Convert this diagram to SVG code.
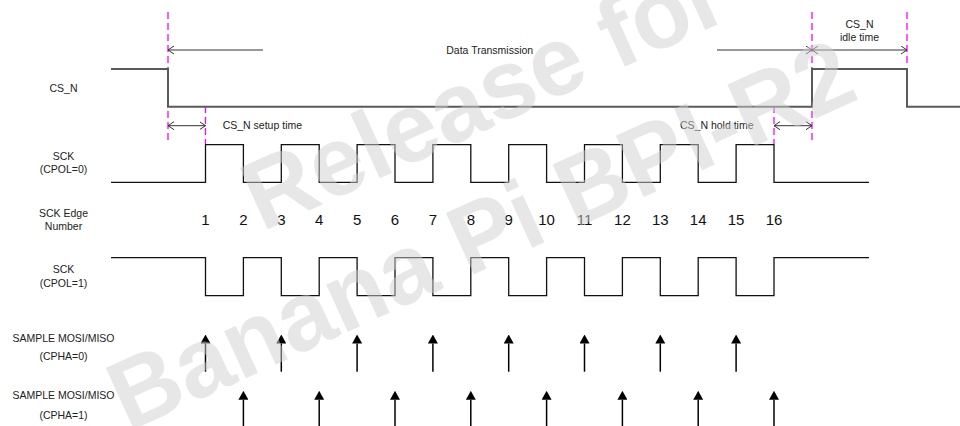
<svg xmlns="http://www.w3.org/2000/svg" width="960" height="426" viewBox="0 0 960 426">
<defs>
<style>
.lbl{font-family:"Liberation Sans",Arial,sans-serif;font-size:10.5px;fill:#222;text-anchor:middle}
.lbs{font-family:"Liberation Sans",Arial,sans-serif;font-size:10.5px;fill:#222}
.num{font-family:"Liberation Sans",Arial,sans-serif;font-size:15px;fill:#111;text-anchor:middle}
.sig{fill:none;stroke:#111;stroke-width:1.3}
.cs{fill:none;stroke:#5a5a5a;stroke-width:2}
.mag{stroke:#ff00ff;stroke-width:1.3;stroke-dasharray:7,4;fill:none}
.dim{stroke:#333;stroke-width:1;fill:none}
.samp{stroke:#000;stroke-width:1.5;fill:none}
.wm{font-family:"Liberation Sans",Arial,sans-serif;font-weight:bold;font-size:98px;fill:#d0d0d0;fill-opacity:0.5}
</style>
<marker id="open" viewBox="0 0 6 9" refX="6" refY="4.5" markerWidth="6" markerHeight="9" markerUnits="userSpaceOnUse" orient="auto-start-reverse">
<path d="M0,0.5 L6,4.5 L0,8.5" fill="none" stroke="#333" stroke-width="1"/>
</marker>
<marker id="fill" viewBox="0 0 9 10" refX="0" refY="5" markerWidth="9" markerHeight="10" markerUnits="userSpaceOnUse" orient="auto">
<path d="M0,0 L9,5 L0,10 z" fill="#000"/>
</marker>
</defs>
<rect width="960" height="426" fill="#fff"/>

<g id="labels">
<text class="lbl" x="63.5" y="92">CS_N</text>
<text class="lbl" x="63.5" y="160">SCK</text>
<text class="lbl" x="63.5" y="172.5">(CPOL=0)</text>
<text class="lbl" x="63.5" y="216.5">SCK Edge</text>
<text class="lbl" x="63.5" y="229.8">Number</text>
<text class="lbl" x="63.5" y="272.5">SCK</text>
<text class="lbl" x="63.5" y="286.5">(CPOL=1)</text>
<text class="lbl" x="63.5" y="341.8">SAMPLE MOSI/MISO</text>
<text class="lbl" x="63.5" y="359.5">(CPHA=0)</text>
<text class="lbl" x="63.5" y="399">SAMPLE MOSI/MISO</text>
<text class="lbl" x="63.5" y="419">(CPHA=1)</text>
</g>

<g id="guides">
<line class="mag" x1="168" y1="12" x2="168" y2="144"/>
<line class="mag" x1="205.5" y1="106" x2="205.5" y2="144"/>
<line class="mag" x1="774" y1="106" x2="774" y2="144"/>
<line class="mag" x1="812" y1="12" x2="812" y2="144"/>
<line class="mag" x1="907" y1="12" x2="907" y2="66"/>
</g>

<g id="cs_n">
<path class="cs" d="M111,69 H168 V106.7 H812 V69 H907 V106.7 H960"/>
</g>

<g id="sck_cpol0">
<path class="sig" d="M111,182.3 H205.5 V144.7 H243.4 V182.3 H281.3 V144.7 H319.2 V182.3 H357.1 V144.7 H395 V182.3 H432.9 V144.7 H470.8 V182.3 H508.7 V144.7 H546.6 V182.3 H584.5 V144.7 H622.4 V182.3 H660.3 V144.7 H698.2 V182.3 H736.1 V144.7 H774 V182.3 H869"/>
</g>

<g id="edge_numbers">
<text class="num" x="205.5" y="224.7">1</text>
<text class="num" x="243.4" y="224.7">2</text>
<text class="num" x="281.3" y="224.7">3</text>
<text class="num" x="319.2" y="224.7">4</text>
<text class="num" x="357.1" y="224.7">5</text>
<text class="num" x="395" y="224.7">6</text>
<text class="num" x="432.9" y="224.7">7</text>
<text class="num" x="470.8" y="224.7">8</text>
<text class="num" x="508.7" y="224.7">9</text>
<text class="num" x="546.6" y="224.7">10</text>
<text class="num" x="584.5" y="224.7">11</text>
<text class="num" x="622.4" y="224.7">12</text>
<text class="num" x="660.3" y="224.7">13</text>
<text class="num" x="698.2" y="224.7">14</text>
<text class="num" x="736.1" y="224.7">15</text>
<text class="num" x="774" y="224.7">16</text>
</g>

<g id="sck_cpol1">
<path class="sig" d="M111,257.7 H205.5 V295.7 H243.4 V257.7 H281.3 V295.7 H319.2 V257.7 H357.1 V295.7 H395 V257.7 H432.9 V295.7 H470.8 V257.7 H508.7 V295.7 H546.6 V257.7 H584.5 V295.7 H622.4 V257.7 H660.3 V295.7 H698.2 V257.7 H736.1 V295.7 H774 V257.7 H869"/>
</g>

<g id="timing_texts">
<text class="lbl" x="489.7" y="53.5">Data Transmission</text>
<text class="lbs" x="222.7" y="129.2">CS_N setup time</text>
<text class="lbs" x="680" y="129.2">CS_N hold time</text>
<text class="lbl" x="859.5" y="28.2">CS_N</text>
<text class="lbl" x="859.5" y="40.5">idle time</text>
</g>

<g id="connectors">
<line class="dim" x1="263" y1="50" x2="168" y2="50" marker-end="url(#open)"/>
<line class="dim" x1="717" y1="50" x2="812" y2="50" marker-end="url(#open)"/>
<line class="dim" x1="812" y1="50" x2="907" y2="50" marker-start="url(#open)" marker-end="url(#open)"/>
<line class="dim" x1="168" y1="125.7" x2="205.5" y2="125.7" marker-start="url(#open)" marker-end="url(#open)"/>
<line class="dim" x1="774" y1="125.7" x2="812" y2="125.7" marker-start="url(#open)" marker-end="url(#open)"/>
<line class="samp" x1="205.5" y1="371.7" x2="205.5" y2="343.5" marker-end="url(#fill)"/>
<line class="samp" x1="281.3" y1="371.7" x2="281.3" y2="343.5" marker-end="url(#fill)"/>
<line class="samp" x1="357.1" y1="371.7" x2="357.1" y2="343.5" marker-end="url(#fill)"/>
<line class="samp" x1="432.9" y1="371.7" x2="432.9" y2="343.5" marker-end="url(#fill)"/>
<line class="samp" x1="508.7" y1="371.7" x2="508.7" y2="343.5" marker-end="url(#fill)"/>
<line class="samp" x1="584.5" y1="371.7" x2="584.5" y2="343.5" marker-end="url(#fill)"/>
<line class="samp" x1="660.3" y1="371.7" x2="660.3" y2="343.5" marker-end="url(#fill)"/>
<line class="samp" x1="736.1" y1="371.7" x2="736.1" y2="343.5" marker-end="url(#fill)"/>
<line class="samp" x1="243.4" y1="426" x2="243.4" y2="399.8" marker-end="url(#fill)"/>
<line class="samp" x1="319.2" y1="426" x2="319.2" y2="399.8" marker-end="url(#fill)"/>
<line class="samp" x1="395" y1="426" x2="395" y2="399.8" marker-end="url(#fill)"/>
<line class="samp" x1="470.8" y1="426" x2="470.8" y2="399.8" marker-end="url(#fill)"/>
<line class="samp" x1="546.6" y1="426" x2="546.6" y2="399.8" marker-end="url(#fill)"/>
<line class="samp" x1="622.4" y1="426" x2="622.4" y2="399.8" marker-end="url(#fill)"/>
<line class="samp" x1="698.2" y1="426" x2="698.2" y2="399.8" marker-end="url(#fill)"/>
<line class="samp" x1="774" y1="426" x2="774" y2="399.8" marker-end="url(#fill)"/>
</g>

<g id="watermark">
<text class="wm" transform="translate(262,232) rotate(-24.5) scale(0.98,1)">Release for</text>
<text class="wm" transform="translate(128,432) rotate(-24.5) scale(0.98,1)">Banana Pi BPI-R2</text>
</g>
</svg>
